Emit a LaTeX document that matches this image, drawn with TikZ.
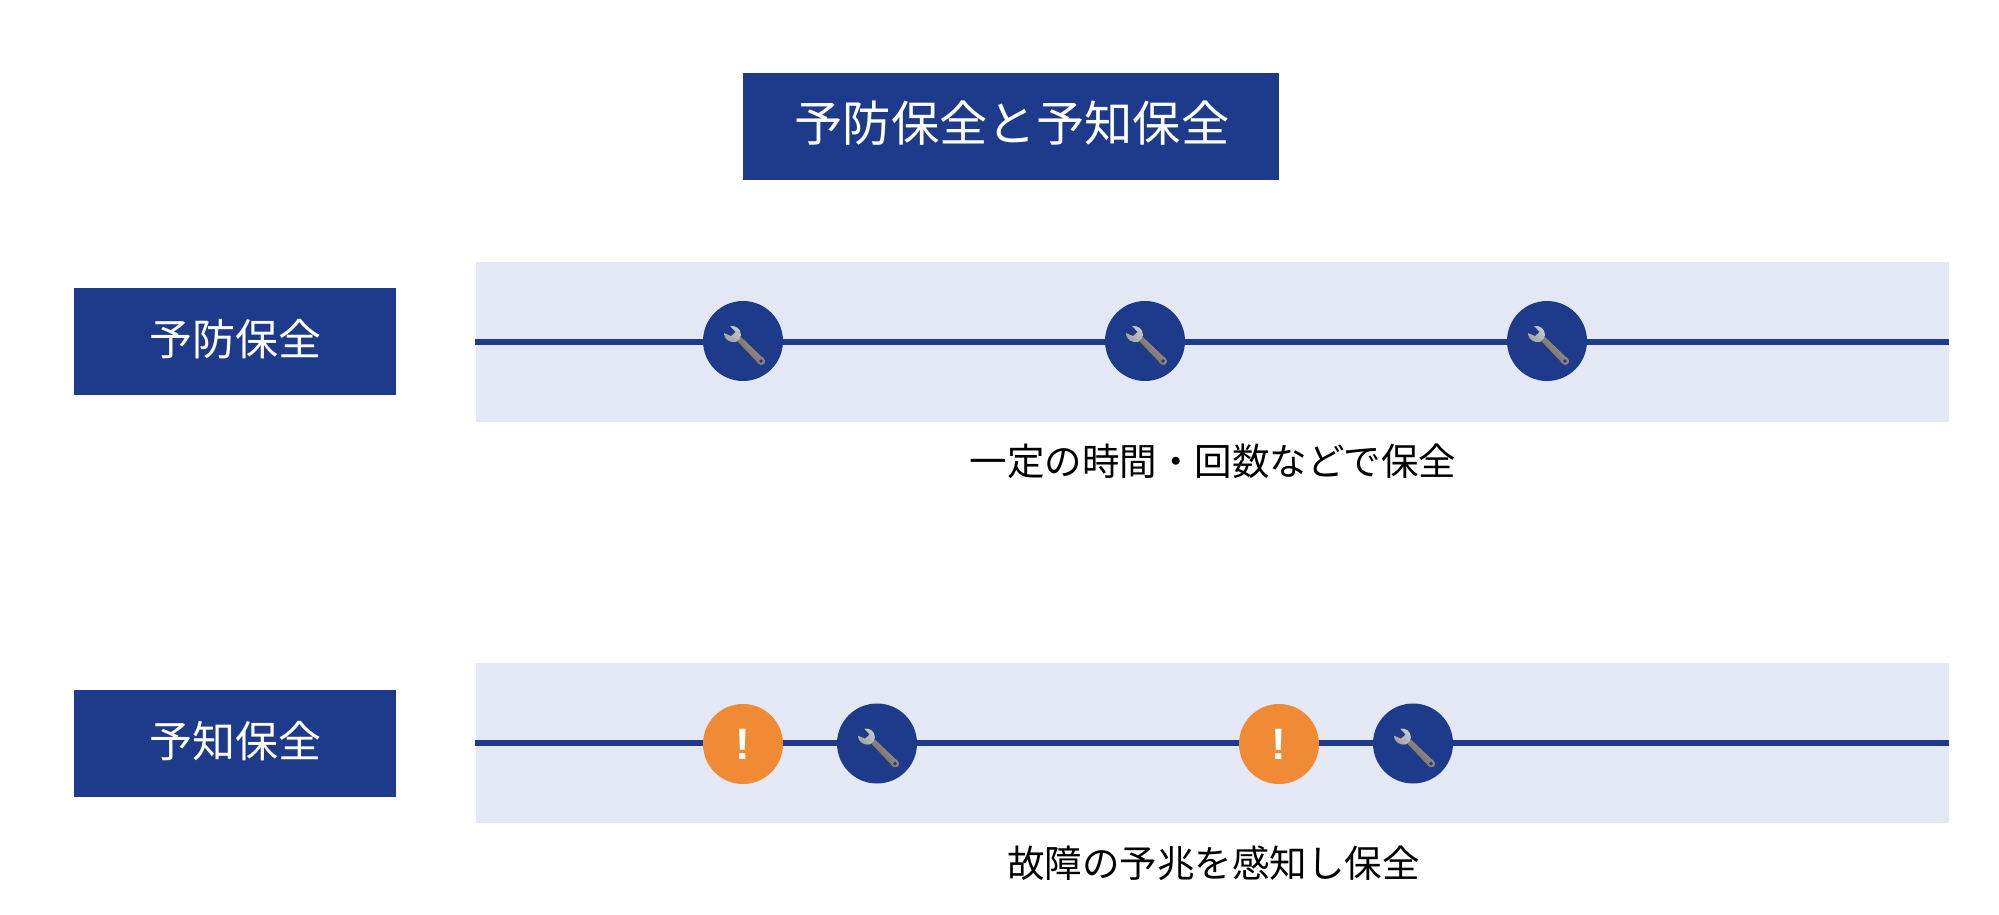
\documentclass[tikz,border=0pt]{standalone}
\usepackage{fontspec}
\setmainfont{Noto Sans CJK JP}
\newfontfamily\markfont{Liberation Sans}
\usetikzlibrary{calc}
\definecolor{navy}{HTML}{1E3A8A}
\definecolor{bandbg}{HTML}{E4E8F5}
\definecolor{alertc}{HTML}{F08A35}
\definecolor{wrenchlight}{HTML}{C4CCD4}
\definecolor{wrenchmid}{HTML}{A0A0A2}
\definecolor{wrenchdark}{HTML}{6E5C56}
\tikzset{
  x=1pt,y=-1pt,
  titlebox/.style={rectangle,fill=navy,draw=none,text=white,inner sep=0pt,minimum width=536pt,minimum height=107pt},
  sidebox/.style={rectangle,fill=navy,draw=none,text=white,inner sep=0pt,minimum width=322pt,minimum height=107pt},
  bandbox/.style={rectangle,fill=bandbg,draw=none,inner sep=0pt,minimum width=1473pt,minimum height=160pt},
  timeline/.style={draw=navy,line width=6pt},
  toolcircle/.style={circle,fill=navy,draw=none,inner sep=0pt,minimum size=80pt},
  alertcircle/.style={circle,fill=alertc,draw=none,inner sep=0pt,minimum size=80pt,text=white,font=\markfont\bfseries\fontsize{44}{44}\selectfont},
  caption/.style={text=black,inner sep=0pt,font=\fontsize{37.5}{37.5}\selectfont},
  sidetext/.style={text=white,inner sep=0pt,font=\fontsize{43}{43}\selectfont},
  titletext/.style={text=white,inner sep=0pt,font=\fontsize{48.3}{48.3}\selectfont},
  wrench/.pic={
    \begin{scope}[shift={(1,2)}]
    % handle
    \fill[left color=wrenchmid,right color=wrenchdark,shading angle=-48]
      (-9,-4) -- (-5,-8) -- (17,13) .. controls (21,15) and (22,19) .. (20,21)
      .. controls (18,23) and (14,22) .. (12,18) -- cycle;
    % head
    \fill[left color=wrenchlight,right color=wrenchmid,shading angle=-48]
      (-14,-17) .. controls (-8,-18) and (-3,-14) .. (-3,-8)
      .. controls (-3,-5) and (-5,-2) .. (-8,-1)
      .. controls (-14,0) and (-20,-3) .. (-20,-10)
      -- (-13,-7) -- (-8.5,-11) -- cycle;
    % ring hole
    \fill[navy] (17,18) circle (1.9);
    \end{scope}
  }
}
\begin{document}
\begin{tikzpicture}
\useasboundingbox (0,0) rectangle (1999,915);
\node[titlebox] (title) at (1011,126.5) {};
\node[titletext] (titletext) at (1012,123) {予防保全と予知保全};

\node[sidebox] (boxa) at (234.5,341) {};
\node[sidetext] (boxatext) at (235,339) {予防保全};
\node[bandbox] (banda) at (1212,341.5) {};
\draw[timeline] (banda.west) -- (banda.east);
\node[toolcircle] (a1) at (743,341) {};
\node[toolcircle] (a2) at (1145,341) {};
\node[toolcircle] (a3) at (1547,341) {};
\pic at (a1) {wrench};
\pic at (a2) {wrench};
\pic at (a3) {wrench};
\node[caption] (capa) at (1213,461) {一定の時間・回数などで保全};

\node[sidebox] (boxb) at (234.5,743) {};
\node[sidetext] (boxbtext) at (235,741) {予知保全};
\node[bandbox] (bandb) at (1212,743) {};
\draw[timeline] (bandb.west) -- (bandb.east);
\node[alertcircle] (b1) at (743,744) {!};
\node[toolcircle] (b2) at (877,743.5) {};
\node[alertcircle] (b3) at (1279,744) {!};
\node[toolcircle] (b4) at (1413,743.5) {};
\pic at (b2) {wrench};
\pic at (b4) {wrench};
\node[caption] (capb) at (1213.5,863) {故障の予兆を感知し保全};
\end{tikzpicture}
\end{document}
